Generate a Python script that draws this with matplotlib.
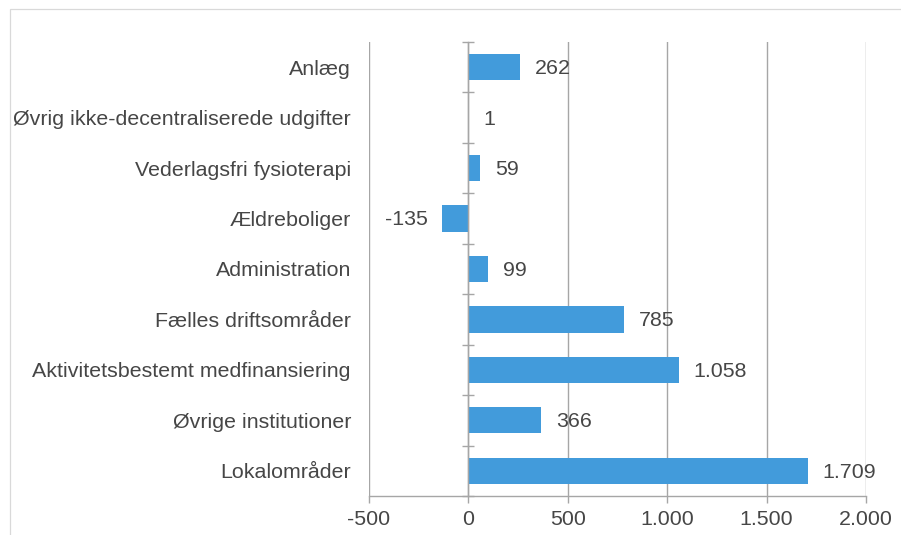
import matplotlib.pyplot as plt
from matplotlib.patches import Rectangle
import numpy as np

# data (bottom to top)
kategorier = ["Lokalområder", "Øvrige institutioner", "Aktivitetsbestemt medfinansiering",
              "Fælles driftsområder", "Administration", "Ældreboliger",
              "Vederlagsfri fysioterapi", "Øvrig ikke-decentraliserede udgifter", "Anlæg"]
vaerdier = [1709, 366, 1058, 785, 99, -135, 59, 1, 262]
xticks = [-500, 0, 500, 1000, 1500, 2000]

plt.rcParams['font.family'] = ['Liberation Sans', 'DejaVu Sans']
tekst = '#464646'
grid = '#a6a6a6'
blaa = '#429bdb'
fs = 15.4

def dk(v):
    return f"{v:,.0f}".replace(",", ".")

fig = plt.figure(figsize=(9.01, 5.35), dpi=100)
ax = fig.add_axes([369/901, 39/535, 497/901, 454/535])

y = np.arange(len(kategorier))
ax.barh(y, vaerdier, height=0.52, color=blaa, linewidth=0, zorder=3)
ax.set_xlim(-500, 2000)
ax.set_ylim(-0.5, len(kategorier) - 0.5)

for yi, v in zip(y, vaerdier):
    if v >= 0:
        ax.annotate(dk(v), (v, yi), xytext=(10.5, -1), textcoords='offset points',
                    ha='left', va='center', fontsize=fs, color=tekst)
    else:
        ax.annotate(dk(v), (v, yi), xytext=(-10, -1), textcoords='offset points',
                    ha='right', va='center', fontsize=fs, color=tekst)

ax.set_xticks(xticks)
ax.set_xticklabels([dk(t) for t in xticks])
ax.xaxis.grid(True, color=grid, linewidth=1.0, zorder=0)
ax.set_yticks(y)
ax.set_yticklabels(kategorier)
ax.tick_params(axis='y', length=0, pad=13, labelsize=fs, labelcolor=tekst)
ax.tick_params(axis='x', length=5, color=grid, width=1, labelsize=fs,
               labelcolor=tekst, pad=5)

for s in ['top', 'right', 'left']:
    ax.spines[s].set_visible(False)
ax.spines['bottom'].set_color(grid)
ax.spines['bottom'].set_linewidth(1.0)

# zero axis with category tick marks, drawn over the bars
nul = ax.secondary_yaxis(500/2500)
nul.set_zorder(10)
nul.set_yticks(np.arange(-0.5, len(kategorier)))
nul.tick_params(direction='inout', length=9, color=grid, width=1, labelleft=False)
nul.spines['left'].set_color(grid)
nul.spines['left'].set_linewidth(1.0)

fig.add_artist(Rectangle((10/901, -0.1), 1.0, (535-9)/535 + 0.1, transform=fig.transFigure,
                         fill=False, edgecolor='#d9d9d9', linewidth=0.9))

fig.savefig('out.png', dpi=100)
